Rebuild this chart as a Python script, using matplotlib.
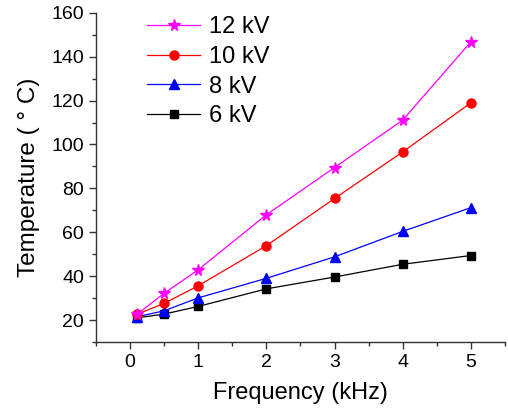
import matplotlib.pyplot as plt
from matplotlib.ticker import MultipleLocator

plt.rcParams['font.family'] = ['Liberation Sans', 'DejaVu Sans']

freq = [0.1, 0.5, 1, 2, 3, 4, 5]
temp_6kv = [21.0, 22.7, 26.2, 34.2, 39.6, 45.4, 49.4]
temp_8kv = [21.5, 24.2, 30.1, 39.0, 48.8, 60.4, 71.2]
temp_10kv = [22.6, 27.6, 35.6, 53.9, 75.4, 96.6, 119.0]
temp_12kv = [22.6, 32.2, 42.9, 68.0, 89.5, 111.1, 146.8]

series = [
    ("12 kV", temp_12kv, "#ff00ff", "*", 8.5),
    ("10 kV", temp_10kv, "#ff0000", "o", 6.5),
    ("8 kV", temp_8kv, "#0000ff", "^", 7),
    ("6 kV", temp_6kv, "black", "s", 5.5),
]

fig = plt.figure(figsize=(5.08, 4.13), dpi=100)
ax = fig.add_axes([0.189, 0.172, 0.805, 0.797])

handles = []
# draw 6 kV first so higher voltages sit on top
for label, vals, col, mk, ms in reversed(series):
    h, = ax.plot(freq, vals, color=col, marker=mk, markersize=ms, lw=0.9,
                 markeredgecolor=col, markerfacecolor=col, label=label)
    handles.append(h)
handles = handles[::-1]

ax.set_xlim(-0.5, 5.5)
ax.set_ylim(10, 160)
ax.xaxis.set_major_locator(MultipleLocator(1))
ax.xaxis.set_minor_locator(MultipleLocator(0.5))
ax.yaxis.set_major_locator(MultipleLocator(20))
ax.yaxis.set_minor_locator(MultipleLocator(10))
ax.set_yticks([20, 40, 60, 80, 100, 120, 140, 160])

for s in ['top', 'right']:
    ax.spines[s].set_visible(False)
for s in ['left', 'bottom']:
    ax.spines[s].set_linewidth(1.0)
    ax.spines[s].set_color('#333333')

ax.tick_params(which='major', direction='out', length=5, width=1, labelsize=14, colors='#333333', labelcolor='black')
ax.tick_params(which='minor', direction='out', length=3, width=1, colors='#333333')

ax.set_xlabel("Frequency (kHz)", fontsize=17, labelpad=8)
ax.set_ylabel("Temperature ( ° C)", fontsize=17.5, labelpad=8)

ax.legend(handles=handles, loc='upper left', bbox_to_anchor=(0.125, 0.99), frameon=False,
          fontsize=17, handlelength=2.25, handletextpad=0.35, labelspacing=0.33,
          borderpad=0, borderaxespad=0)

fig.savefig("out.png", dpi=100)
